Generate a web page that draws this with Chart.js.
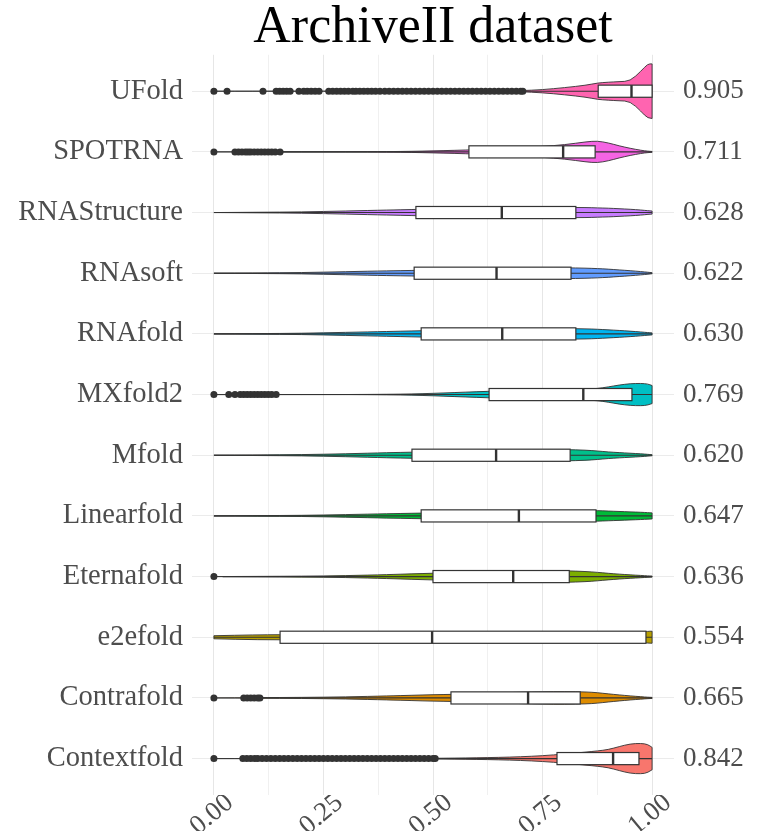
<!DOCTYPE html>
<html>
<head>
<meta charset="utf-8">
<script src="https://cdn.jsdelivr.net/npm/chart.js@4.4.0/dist/chart.umd.min.js"></script>
<style>
  body { margin: 0; background: #fff; }
</style>
</head>
<body>
<canvas id="violinChart" width="757" height="831"></canvas>
<script>
// methods from bottom to top (factor order)
var methods = ['Contextfold', 'Contrafold', 'e2efold', 'Eternafold', 'Linearfold', 'Mfold',
  'MXfold2', 'RNAfold', 'RNAsoft', 'RNAStructure', 'SPOTRNA', 'UFold'];
var meanScores = ['0.842', '0.665', '0.554', '0.636', '0.647', '0.620',
  '0.769', '0.630', '0.622', '0.628', '0.711', '0.905'];
var fillColors = ['#F8766D', '#DE8C00', '#B79F00', '#7CAE00', '#00BA38', '#00C08B',
  '#00BFC4', '#00B4F0', '#619CFF', '#C77CFF', '#F564E3', '#FF64B0'];

// [q1, median, q3]
var boxStats = [
  [0.783, 0.911, 0.970],
  [0.541, 0.717, 0.836],
  [0.151, 0.498, 0.986],
  [0.500, 0.683, 0.811],
  [0.473, 0.696, 0.872],
  [0.452, 0.644, 0.813],
  [0.628, 0.843, 0.954],
  [0.473, 0.658, 0.826],
  [0.457, 0.645, 0.815],
  [0.461, 0.657, 0.826],
  [0.582, 0.797, 0.870],
  [0.877, 0.953, 1.000]
];
// [lower whisker, upper whisker]
var whiskers = [
  [0.505, 1], [0.11, 1], [0, 1], [0.02, 1], [0, 1], [0, 1],
  [0.145, 1], [0, 1], [0, 1], [0, 1], [0.155, 1], [0.705, 1]
];
var outliers = [
  [0, 0.066, 0.075, 0.084, 0.093, 0.10, 0.11, 0.12, 0.13, 0.14, 0.15, 0.16, 0.17, 0.18, 0.19,
    0.20, 0.21, 0.22, 0.23, 0.24, 0.25, 0.26, 0.27, 0.28, 0.29, 0.30, 0.31, 0.32, 0.33, 0.34,
    0.35, 0.36, 0.37, 0.38, 0.39, 0.40, 0.41, 0.42, 0.43, 0.44, 0.45, 0.46, 0.47, 0.48, 0.49, 0.50, 0.505],
  [0, 0.068, 0.076, 0.084, 0.092, 0.10, 0.105],
  [],
  [0],
  [],
  [],
  [0, 0.034, 0.048, 0.06, 0.068, 0.076, 0.084, 0.092, 0.10, 0.108, 0.116, 0.124, 0.132, 0.142],
  [],
  [],
  [],
  [0, 0.048, 0.056, 0.064, 0.072, 0.078, 0.084, 0.092, 0.10, 0.108, 0.116, 0.124, 0.132, 0.14, 0.151],
  [0, 0.03, 0.112, 0.142, 0.15, 0.158, 0.166, 0.174, 0.194, 0.205, 0.213, 0.222, 0.231, 0.24,
    0.262, 0.271, 0.28, 0.289, 0.298, 0.307, 0.317, 0.324, 0.333, 0.342, 0.351, 0.36, 0.369, 0.379,
    0.39, 0.40, 0.41, 0.42, 0.43, 0.44, 0.45, 0.46, 0.47, 0.48, 0.49, 0.50, 0.51, 0.52, 0.53, 0.54,
    0.55, 0.56, 0.57, 0.58, 0.59, 0.60, 0.61, 0.62, 0.63, 0.64, 0.65, 0.66, 0.67, 0.68, 0.69, 0.70, 0.705]
];

// violin density (1 = widest) sampled at densityGrid
var densityGrid = [0, 0.1, 0.2, 0.3, 0.4, 0.45, 0.5, 0.55, 0.6, 0.65, 0.7, 0.75, 0.8, 0.85, 0.875,
  0.9, 0.925, 0.95, 0.975, 0.99, 1.0];
var densities = [
  [0, 0, 0, 0, 0, 0.004, 0.011, 0.019, 0.03, 0.044, 0.067, 0.104, 0.167, 0.24, 0.28, 0.33, 0.44, 0.54, 0.56, 0.52, 0.41],
  [0, 0.011, 0.019, 0.037, 0.074, 0.096, 0.119, 0.13, 0.156, 0.185, 0.207, 0.226, 0.233, 0.22, 0.193, 0.148, 0.11, 0.074, 0.044, 0.026, 0.019],
  [0.056, 0.093, 0.093, 0.093, 0.093, 0.093, 0.093, 0.093, 0.093, 0.093, 0.093, 0.093, 0.093, 0.093, 0.093, 0.096, 0.104, 0.12, 0.167, 0.22, 0.22],
  [0, 0.007, 0.015, 0.033, 0.074, 0.1, 0.122, 0.148, 0.17, 0.19, 0.204, 0.21, 0.215, 0.185, 0.156, 0.119, 0.089, 0.063, 0.041, 0.026, 0.019],
  [0, 0.011, 0.019, 0.048, 0.081, 0.096, 0.111, 0.13, 0.144, 0.16, 0.174, 0.185, 0.193, 0.196, 0.193, 0.178, 0.163, 0.148, 0.133, 0.119, 0.111],
  [0, 0.011, 0.022, 0.052, 0.096, 0.11, 0.133, 0.156, 0.174, 0.19, 0.2, 0.207, 0.21, 0.185, 0.156, 0.12, 0.096, 0.074, 0.052, 0.033, 0.019],
  [0, 0, 0, 0, 0.011, 0.022, 0.044, 0.074, 0.104, 0.13, 0.148, 0.167, 0.185, 0.204, 0.22, 0.28, 0.35, 0.4, 0.41, 0.39, 0.33],
  [0, 0.011, 0.022, 0.056, 0.089, 0.107, 0.126, 0.144, 0.16, 0.174, 0.185, 0.193, 0.196, 0.185, 0.17, 0.148, 0.126, 0.1, 0.07, 0.048, 0.037],
  [0, 0.011, 0.022, 0.056, 0.089, 0.1, 0.12, 0.14, 0.16, 0.17, 0.18, 0.19, 0.2, 0.185, 0.17, 0.15, 0.12, 0.093, 0.06, 0.037, 0.019],
  [0, 0.011, 0.022, 0.056, 0.093, 0.11, 0.13, 0.15, 0.16, 0.17, 0.17, 0.18, 0.185, 0.185, 0.17, 0.16, 0.14, 0.12, 0.093, 0.067, 0.056],
  [0, 0, 0, 0, 0.011, 0.019, 0.037, 0.056, 0.081, 0.11, 0.15, 0.2, 0.26, 0.37, 0.4, 0.33, 0.22, 0.13, 0.056, 0.026, 0.015],
  [0, 0, 0, 0, 0, 0, 0, 0, 0.004, 0.007, 0.019, 0.056, 0.13, 0.22, 0.3, 0.33, 0.35, 0.37, 0.74, 1, 1]
];

var xTicks = [0, 0.125, 0.25, 0.375, 0.5, 0.625, 0.75, 0.875, 1];
var xTickLabels = ['0.00', '', '0.25', '', '0.50', '', '0.75', '', '1.00'];
var rows = methods.map(function (m, i) { return i; });

var serif = 'Liberation Serif';
var tickGray = '#4d4d4d';
var lineDark = '#333333';

// outlier points
var outlierPts = [];
for (var i = 0; i < methods.length; i++) {
  for (var j = 0; j < outliers[i].length; j++) {
    outlierPts.push({ x: outliers[i][j], y: i });
  }
}

function smoothEdge(ctx, pts, first) {
  if (first) ctx.moveTo(pts[0][0], pts[0][1]); else ctx.lineTo(pts[0][0], pts[0][1]);
  for (var k = 1; k < pts.length - 1; k++) {
    var mx = (pts[k][0] + pts[k + 1][0]) / 2, my = (pts[k][1] + pts[k + 1][1]) / 2;
    ctx.quadraticCurveTo(pts[k][0], pts[k][1], mx, my);
  }
  ctx.lineTo(pts[pts.length - 1][0], pts[pts.length - 1][1]);
}

var violinBoxPlugin = {
  id: 'violinBox',
  beforeDatasetsDraw: function (chart) {
    var ctx = chart.ctx, xs = chart.scales.x, ys = chart.scales.y;
    ctx.save();
    for (var i = 0; i < methods.length; i++) {
      // violin
      var top = [], bot = [];
      for (var k = 0; k < densityGrid.length; k++) {
        var px = xs.getPixelForValue(densityGrid[k]);
        var w = densities[i][k] * 0.45;
        top.push([px, ys.getPixelForValue(i + w)]);
        bot.unshift([px, ys.getPixelForValue(i - w)]);
      }
      ctx.beginPath();
      smoothEdge(ctx, top, true);
      smoothEdge(ctx, bot, false);
      ctx.closePath();
      ctx.fillStyle = fillColors[i];
      ctx.fill();
      ctx.strokeStyle = lineDark;
      ctx.lineWidth = 0.9;
      ctx.stroke();

      // whiskers
      var yc = ys.getPixelForValue(i);
      var b = boxStats[i];
      ctx.beginPath();
      ctx.moveTo(xs.getPixelForValue(whiskers[i][0]), yc);
      ctx.lineTo(xs.getPixelForValue(b[0]), yc);
      ctx.moveTo(xs.getPixelForValue(b[2]), yc);
      ctx.lineTo(xs.getPixelForValue(whiskers[i][1]), yc);
      ctx.lineWidth = 1.1;
      ctx.stroke();

      // box
      var y0 = ys.getPixelForValue(i + 0.1), y1 = ys.getPixelForValue(i - 0.1);
      var x0 = xs.getPixelForValue(b[0]), x1 = xs.getPixelForValue(b[2]);
      ctx.fillStyle = '#ffffff';
      ctx.fillRect(x0, y0, x1 - x0, y1 - y0);
      ctx.lineWidth = 1.2;
      ctx.strokeRect(x0, y0, x1 - x0, y1 - y0);

      // median
      var xm = xs.getPixelForValue(b[1]);
      ctx.beginPath();
      ctx.moveTo(xm, y0);
      ctx.lineTo(xm, y1);
      ctx.lineWidth = 2.4;
      ctx.stroke();
    }
    ctx.restore();
  }
};

var ctx = document.getElementById('violinChart').getContext('2d');
var config = {
  type: 'scatter',
  data: {
    datasets: [{
      label: 'outliers',
      data: outlierPts,
      backgroundColor: lineDark,
      borderWidth: 0,
      pointRadius: 3.5
    }]
  },
  options: {
    responsive: false,
    animation: false,
    layout: { padding: 0 },
    plugins: {
      legend: { display: false },
      tooltip: { enabled: false },
      title: {
        display: true,
        text: 'ArchiveII dataset',
        fullSize: false,
        color: '#000',
        font: { family: serif, size: 52, weight: 'normal', lineHeight: 0.9 },
        padding: { top: 5, bottom: 3 }
      }
    },
    scales: {
      x: {
        type: 'linear',
        min: -0.05,
        max: 1.05,
        afterBuildTicks: function (s) { s.ticks = xTicks.map(function (v) { return { value: v }; }); },
        afterFit: function (s) { s.height = 36; },
        border: { display: false },
        grid: {
          drawTicks: false,
          color: function (c) { return xTickLabels[c.index] ? '#e6e6e6' : '#f0f0f0'; },
          lineWidth: 1
        },
        ticks: {
          autoSkip: false,
          minRotation: 40,
          maxRotation: 40,
          padding: -8,
          labelOffset: 16,
          color: tickGray,
          font: { family: serif, size: 27 },
          callback: function (v, idx) { return xTickLabels[idx]; }
        }
      },
      y: {
        type: 'linear',
        position: 'left',
        min: -0.6,
        max: 11.6,
        afterBuildTicks: function (s) { s.ticks = rows.map(function (v) { return { value: v }; }); },
        afterFit: function (s) { s.width = 192; },
        border: { display: false },
        grid: { drawTicks: false, color: '#ebebeb', lineWidth: 1 },
        ticks: {
          padding: 9,
          color: tickGray,
          font: { family: serif, size: 28.5 },
          callback: function (v) { return methods[v]; }
        }
      },
      y2: {
        type: 'linear',
        position: 'right',
        min: -0.6,
        max: 11.6,
        afterBuildTicks: function (s) { s.ticks = rows.map(function (v) { return { value: v }; }); },
        afterFit: function (s) { s.width = 83; },
        border: { display: false },
        grid: { display: false, drawTicks: false },
        ticks: {
          padding: 9,
          color: tickGray,
          font: { family: serif, size: 27 },
          callback: function (v) { return meanScores[v]; }
        }
      }
    }
  },
  plugins: [violinBoxPlugin]
};
window.myViolin = new Chart(ctx, config);
</script>
</body>
</html>
